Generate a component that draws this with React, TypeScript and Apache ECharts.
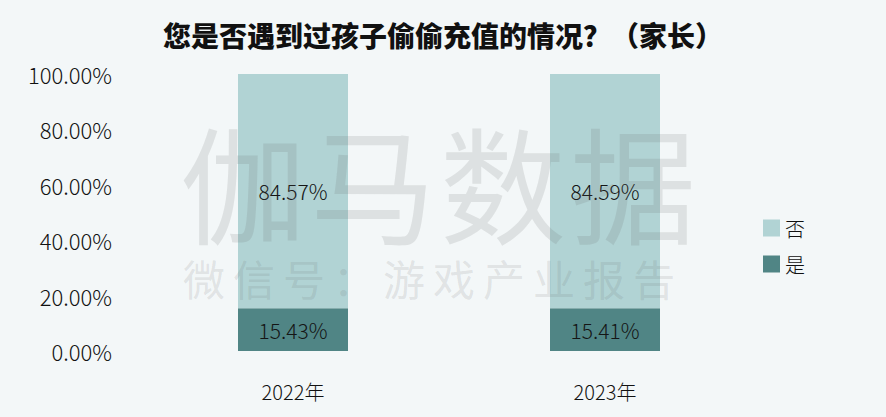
import React, { useEffect, useRef } from "react";
import * as echarts from "echarts";

const title = "您是否遇到过孩子偷偷充值的情况？（家长）";
const categories = ["2022年", "2023年"];
const seriesNames = ["是", "否"];
const yesValues = [15.43, 15.41];
const noValues = [84.57, 84.59];
const watermarkMain = ["伽", "马", "数", "据"];
const watermarkSub = ["微", "信", "号", "：", "游", "戏", "产", "业", "报", "告"];

const FONT = "'Noto Sans CJK SC', 'Noto Sans', sans-serif";

export default function App() {
  const ref = useRef<HTMLDivElement>(null);
  useEffect(() => {
    const chart = echarts.init(ref.current!, null, { renderer: "svg" });
    const wmColor = "rgba(100,100,100,0.15)";
    const graphics: any[] = [];
    watermarkMain.forEach((ch, i) => {
      graphics.push({
        type: "text",
        x: 243 + i * 130,
        y: 180,
        z: 1,
        silent: true,
        style: {
          text: ch,
          fill: wmColor,
          font: `normal 126px ${FONT}`,
          textAlign: "center",
          textVerticalAlign: "middle",
        },
      });
    });
    watermarkSub.forEach((ch, i) => {
      graphics.push({
        type: "text",
        x: 204 + i * 50,
        y: 277,
        z: 1,
        silent: true,
        style: {
          text: ch,
          fill: wmColor,
          font: `normal 42px ${FONT}`,
          textAlign: "center",
          textVerticalAlign: "middle",
        },
      });
    });
    const labelStyle = {
      show: true,
      position: "inside",
      formatter: (p: any) => p.value.toFixed(2) + "%",
      color: "#151515",
      fontSize: 21,
      fontFamily: FONT,
      fontWeight: 300,
    };
    chart.setOption({
      animation: false,
      backgroundColor: "#f3f7f8",
      title: {
        text: title,
        left: "center",
        top: 16,
        textStyle: { fontSize: 28, fontWeight: 900, color: "#111", fontFamily: FONT },
      },
      legend: {
        data: ["否", "是"],
        orient: "vertical",
        left: 758,
        top: 213,
        itemWidth: 17,
        itemHeight: 17,
        itemGap: 16,
        icon: "rect",
        textStyle: { fontSize: 20, color: "#111", fontFamily: FONT, fontWeight: 300 },
      },
      grid: { left: 137, right: 125, top: 74, bottom: 66 },
      xAxis: {
        type: "category",
        data: categories,
        axisLine: { show: false },
        axisTick: { show: false },
        axisLabel: { fontSize: 20, color: "#111", fontFamily: FONT, fontWeight: 300, margin: 30 },
      },
      yAxis: {
        type: "value",
        min: 0,
        max: 100,
        interval: 20,
        splitLine: { show: false },
        axisLine: { show: false },
        axisTick: { show: false },
        axisLabel: {
          fontSize: 22,
          color: "#111",
          fontFamily: FONT,
          fontWeight: 300,
          margin: 25,
          formatter: (v: number) => v.toFixed(2) + "%",
        },
      },
      graphic: graphics,
      series: [
        {
          name: seriesNames[0],
          type: "bar",
          stack: "total",
          data: yesValues,
          barWidth: 110,
          z: 0,
          itemStyle: { color: "#508585" },
          label: labelStyle,
        },
        {
          name: seriesNames[1],
          type: "bar",
          stack: "total",
          data: noValues,
          barWidth: 110,
          z: 0,
          itemStyle: { color: "#b1d3d4" },
          label: labelStyle,
        },
      ],
    });
    return () => chart.dispose();
  }, []);
  return (
    <div
      ref={ref}
      style={{ position: "absolute", left: 0, top: 0, width: 886, height: 417 }}
    />
  );
}
